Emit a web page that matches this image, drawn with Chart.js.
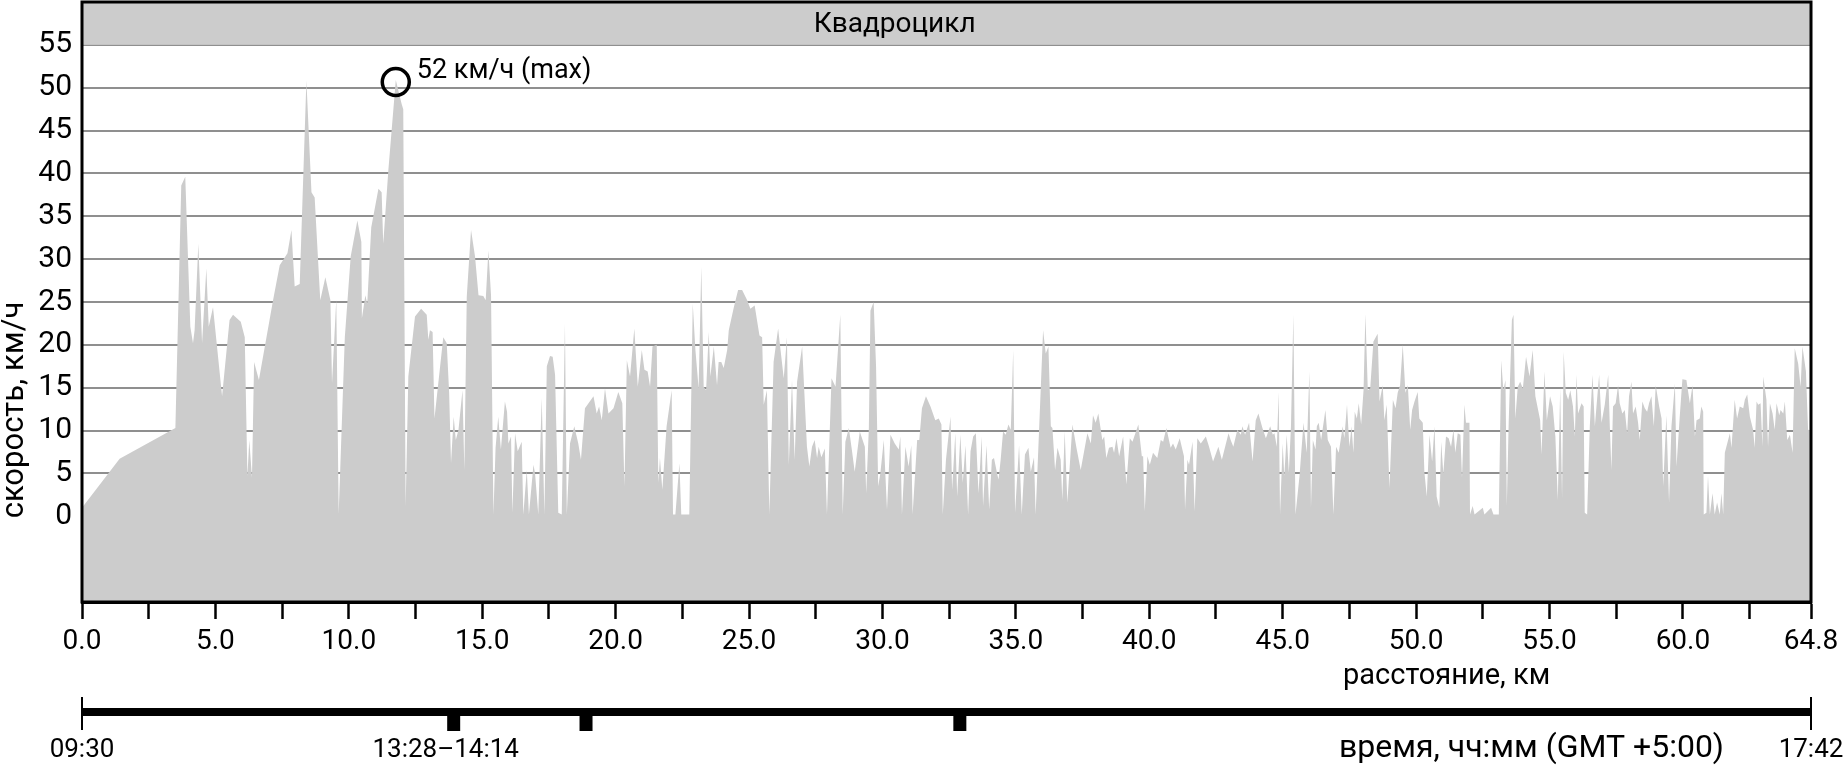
<!DOCTYPE html>
<html>
<head>
<meta charset="utf-8">
<script src="https://cdn.jsdelivr.net/npm/chart.js@4.4.1/dist/chart.umd.min.js"></script>
<style>
html,body{margin:0;padding:0;background:#fff;overflow:hidden}
canvas{display:block}
</style>
</head>
<body>
<canvas id="c" width="1843" height="766"></canvas>
<script>
// ---- data: [distance km, speed km/h] ----
const profileA = [[0,1.0],[1.41,6.7],[3.5,10.3],[3.72,38.6],[3.87,39.6],[4.06,22.1],[4.16,20.2],[4.22,21.7],[4.36,31.8],[4.5,20.2],[4.66,28.9],[4.75,22.1],[4.91,24.4],[5.25,14.0],[5.53,22.9],[5.66,23.5],[5.95,22.7],[6.1,20.9],[6.2,4.7],[6.27,8.9],[6.37,4.5],[6.45,18.0],[6.63,15.9],[7.16,25.2],[7.41,29.3],[7.7,30.7],[7.85,33.4],[7.97,26.8],[8.16,27.1],[8.41,50.8],[8.6,37.8],[8.72,37.2],[8.93,25.2],[9.12,27.9],[9.31,25.2],[9.37,15.5],[9.53,25.3],[9.62,0.3],[9.85,20.9],[10.07,30.3],[10.32,34.5],[10.47,32.0],[10.49,23.1],[10.62,25.8],[10.69,24.8],[10.84,33.7]];
const profileB = [[11.11,38.2],[11.23,37.8],[11.29,31.8],[11.48,40.3],[11.76,50.9],[11.98,48.1],[12.04,47.5],[12.13,1.2],[12.23,16.3],[12.48,23.3],[12.71,24.2],[12.92,23.5],[12.98,20.6],[13.04,21.7],[13.14,21.5],[13.21,11.4],[13.54,20.9],[13.67,20.2],[13.76,14.4],[13.83,6.2],[13.93,11.6],[14.01,8.9],[14.11,10.1],[14.26,14.7],[14.33,5.4],[14.42,25.6],[14.58,33.4],[14.73,30.3],[14.86,25.8],[15.04,25.7],[15.13,25.2],[15.23,31.0],[15.33,25.8],[15.42,0.2],[15.5,8.0],[15.6,11.6],[15.7,7.8],[15.85,13.4],[15.93,12.2],[15.98,8.5],[16.08,9.3],[16.13,0.4],[16.23,9.7],[16.33,7.6],[16.48,8.7],[16.54,0.2],[16.67,5.4],[16.75,0.2],[16.92,6.0],[16.98,5.0],[17.1,0.2],[17.23,13.8],[17.33,0.2],[17.42,17.5],[17.54,18.7],[17.64,18.6],[17.73,16.5],[17.85,0.4],[17.98,0.2],[18.1,22.5],[18.17,0.2],[18.29,8.5],[18.45,10.5],[18.6,8.5],[18.7,6.6],[18.85,12.6],[19.17,14.0],[19.29,12.0],[19.38,12.8],[19.48,11.2],[19.6,14.9],[19.73,12.0],[19.92,12.6],[20.1,14.5],[20.25,13.2],[20.33,3.5],[20.42,18.2],[20.54,16.3],[20.7,21.9],[20.83,15.1],[20.98,19.4],[21.08,17.1],[21.2,16.9],[21.29,15.1],[21.38,19.8],[21.54,20.0],[21.6,3.9],[21.66,6.8],[21.75,3.1],[21.91,10.5],[22.1,14.7]];
const profileC = [[22.15,0.2],[22.24,0.2],[22.39,6.2],[22.46,0.2],[22.76,0.2],[22.89,24.8],[22.99,19.4],[23.11,14.9],[23.21,29.1],[23.3,15.1],[23.39,14.7],[23.49,21.5],[23.55,16.3],[23.68,19.8],[23.8,15.3],[23.86,18.0],[23.96,18.0],[24.05,17.3],[24.18,19.4],[24.24,21.7],[24.43,24.4],[24.59,26.4],[24.74,26.4],[24.93,25.2],[25.05,24.2],[25.21,24.6],[25.39,21.1],[25.49,20.9],[25.55,13.0],[25.67,14.7],[25.76,0.2],[25.92,18.0],[26.09,21.9],[26.3,16.1],[26.42,20.9],[26.49,6.0],[26.61,15.9],[26.71,6.6],[26.8,15.7],[26.99,19.8],[27.17,8.1],[27.26,5.8],[27.36,8.1],[27.46,8.9],[27.55,6.8],[27.61,8.1],[27.71,6.9],[27.84,7.9],[27.92,0.2],[28.09,16.1],[28.24,15.1],[28.42,23.5],[28.51,0.2],[28.61,8.7],[28.74,10.3],[28.86,7.6],[28.96,5.2],[29.15,9.9],[29.34,8.1],[29.39,2.7],[29.49,10.3],[29.55,24.0],[29.67,25.0],[29.76,17.5],[29.84,3.5],[29.92,5.0],[30.05,8.9],[30.17,0.8],[30.3,9.5],[30.46,8.5],[30.61,7.8],[30.67,9.3],[30.73,0.2],[30.86,8.1],[30.98,5.8],[31.08,8.3],[31.13,0.2],[31.3,8.9],[31.38,8.9],[31.48,12.6],[31.63,14.0],[31.8,12.8],[31.98,11.2],[32.11,11.4],[32.21,10.7],[32.26,0.2],[32.38,6.6],[32.55,11.6],[32.61,3.1],[32.73,9.7],[32.8,2.3],[32.92,9.5],[33.01,3.9],[33.11,8.3],[33.21,0.2],[33.3,7.6]];
const profileD = [[33.4,9.3],[33.5,9.7],[33.6,2.7],[33.72,9.3],[33.77,1.2],[33.9,8.3],[34.0,0.8],[34.1,6.6],[34.18,6.8],[34.31,4.8],[34.35,4.3],[34.43,6.6],[34.52,9.9],[34.62,9.5],[34.72,10.7],[34.81,10.1],[34.9,19.4],[34.97,0.4],[35.12,8.3],[35.22,0.2],[35.34,7.2],[35.47,8.0],[35.56,5.2],[35.68,6.9],[35.74,0.2],[35.87,10.1],[36.02,21.7],[36.12,19.0],[36.22,19.8],[36.31,10.5],[36.37,10.3],[36.47,5.4],[36.56,8.0],[36.68,6.6],[36.74,1.9],[36.83,9.9],[36.93,1.6],[37.12,10.7],[37.27,8.0],[37.43,5.4],[37.68,9.7],[37.81,8.5],[37.89,11.8],[37.99,10.9],[38.09,12.0],[38.24,8.9],[38.31,9.3],[38.39,6.8],[38.49,8.0],[38.62,8.1],[38.68,7.4],[38.77,9.1],[38.87,7.0],[39.02,9.3],[39.14,3.7],[39.27,9.1],[39.37,8.7],[39.59,10.7],[39.72,7.0],[39.77,7.0],[39.83,0.6],[39.93,7.0],[40.02,6.0],[40.14,7.4],[40.3,6.8],[40.43,8.9],[40.52,8.7],[40.64,10.3],[40.8,8.0],[40.89,8.5],[40.99,7.8],[41.14,9.1],[41.3,7.0],[41.34,0.8],[41.43,6.6],[41.49,6.0],[41.62,8.7],[41.7,0.6],[41.8,9.1],[41.93,8.5],[42.12,9.3],[42.24,8.1],[42.39,6.4],[42.59,8.1],[42.72,6.6],[42.97,9.7],[43.05,8.9],[43.15,8.1],[43.3,10.1],[43.43,9.5],[43.49,10.5],[43.59,9.5],[43.74,10.9],[43.87,6.4],[43.99,11.2],[44.09,12.0],[44.24,10.3],[44.37,9.1],[44.46,9.9]];
const profileE = [[44.53,10.5],[44.63,9.5],[44.69,9.7],[44.78,8.1],[44.85,14.5],[44.9,0.2],[45.0,8.5],[45.06,4.7],[45.15,9.5],[45.23,5.1],[45.31,10.5],[45.4,23.5],[45.48,0.2],[45.63,4.7],[45.78,10.9],[45.9,7.4],[46.0,16.9],[46.06,1.0],[46.13,8.9],[46.23,7.8],[46.28,10.5],[46.35,10.9],[46.44,8.9],[46.6,12.4],[46.69,8.9],[46.81,8.1],[46.9,0.2],[47.0,8.1],[47.1,7.4],[47.25,10.5],[47.31,9.1],[47.41,13.0],[47.5,8.1],[47.58,10.5],[47.65,7.4],[47.7,12.2],[47.78,11.4],[47.85,13.2],[47.94,10.7],[48.03,14.7],[48.1,23.6],[48.19,14.7],[48.28,14.9],[48.4,20.4],[48.56,21.3],[48.63,13.4],[48.75,15.3],[48.81,11.2],[48.9,13.0],[49.0,3.3],[49.13,13.6],[49.23,12.6],[49.31,14.4],[49.4,15.3],[49.5,20.0],[49.6,14.4],[49.69,15.3],[49.78,10.1],[49.85,12.4],[49.94,13.4],[50.06,14.5],[50.12,11.4],[50.25,10.9],[50.31,5.2],[50.4,2.3],[50.5,9.5],[50.6,6.4],[50.69,10.5],[50.77,2.3],[50.87,1.0],[50.94,8.7],[51.02,5.0],[51.12,9.3],[51.22,9.1],[51.31,8.1],[51.4,10.1],[51.47,7.4],[51.56,9.7],[51.66,9.5],[51.72,4.5],[51.81,13.0],[51.87,10.9],[52.0,10.9],[52.02,0.2],[52.12,1.2],[52.19,0.2],[52.5,1.0],[52.56,0.2],[52.81,1.0],[52.9,0.2],[53.1,0.2],[53.19,18.2],[53.27,14.7],[53.35,15.9],[53.4,1.2],[53.47,11.0],[53.59,22.9],[53.65,23.5],[53.72,11.4],[53.81,15.1],[53.9,15.7],[54.0,14.9],[54.12,18.6],[54.25,16.3],[54.37,19.4],[54.47,14.0],[54.56,12.6],[54.65,11.2],[54.7,7.2],[54.81,16.9],[54.9,11.2],[55.02,14.0],[55.12,12.8],[55.22,9.3],[55.31,1.9],[55.4,14.9],[55.47,2.1],[55.53,19.2]];
const profileF = [[55.61,14.4],[55.7,13.6],[55.78,14.7],[55.88,12.8],[55.95,9.3],[56.01,16.5],[56.07,12.0],[56.2,13.2],[56.28,12.8],[56.32,0.4],[56.41,0.2],[56.51,10.5],[56.61,16.5],[56.7,10.5],[56.76,12.8],[56.86,16.5],[56.95,10.9],[57.07,13.0],[57.2,16.5],[57.26,10.5],[57.32,5.4],[57.38,12.8],[57.48,13.2],[57.57,15.3],[57.63,13.2],[57.73,12.0],[57.82,12.4],[57.91,9.7],[57.98,14.0],[58.07,15.7],[58.13,12.0],[58.23,12.8],[58.32,10.9],[58.38,8.9],[58.48,13.4],[58.57,12.6],[58.66,12.2],[58.73,13.2],[58.82,14.0],[58.91,10.5],[58.98,15.3],[59.11,12.8],[59.2,11.4],[59.26,3.5],[59.38,11.8],[59.48,1.6],[59.57,10.5],[59.7,15.5],[59.76,5.8],[59.88,11.6],[59.98,16.0],[60.13,15.9],[60.26,13.2],[60.36,15.3],[60.45,9.3],[60.51,11.2],[60.63,11.4],[60.69,12.8],[60.76,12.2],[60.78,0.2],[60.88,0.4],[60.94,4.7],[61.01,0.2],[61.11,2.7],[61.19,0.2],[61.28,1.6],[61.38,0.2],[61.44,2.7],[61.51,0.2],[61.57,7.4],[61.66,8.5],[61.76,9.7],[61.82,8.0],[61.94,13.6],[62.03,11.4],[62.13,12.8],[62.26,12.6],[62.32,13.6],[62.41,14.2],[62.51,11.6],[62.63,10.1],[62.69,8.0],[62.76,13.4],[62.82,13.0],[62.91,13.2],[62.98,8.1],[63.01,16.3],[63.13,13.6],[63.19,8.1],[63.26,13.2],[63.36,12.0],[63.44,10.1],[63.51,13.2],[63.61,11.8],[63.66,12.4],[63.76,12.0],[63.82,13.4],[63.91,8.9],[64.01,9.5],[64.11,7.4],[64.19,19.6],[64.32,17.8],[64.41,15.1],[64.48,19.8],[64.61,16.9],[64.69,10.1],[64.8,10.0]];

// ---- axes / labels ----
const xMin = 0, xMax = 64.8;
const yMin = -10, yMax = 60;
const xTickValues = [0,2.5,5,7.5,10,12.5,15,17.5,20,22.5,25,27.5,30,32.5,35,37.5,40,42.5,45,47.5,50,52.5,55,57.5,60,62.5,64.8];
const xLabelValues = [0,5,10,15,20,25,30,35,40,45,50,55,60,64.8];
const yTickValues = [-10,-5,0,5,10,15,20,25,30,35,40,45,50,55,60];
const yLabelValues = [0,5,10,15,20,25,30,35,40,45,50,55];
const bandFrom = 55;
const chartTitle = 'Квадроцикл';
const yTitle = 'скорость, км/ч';
const xTitle = 'расстояние, км';
const timeTitle = 'время, чч:мм (GMT +5:00)';
const maxLabel = '52 км/ч (max)';
const timeStart = '09:30';
const timeEnd = '17:42';
const stopKm = [13.93, 18.89, 32.90];
const stopLabels = ['13:28–14:14', '', ''];

const FONT = 'Roboto, "Noto Sans", sans-serif';
const points = [].concat(profileA, profileB, profileC, profileD, profileE, profileF).map(p => ({x: p[0], y: p[1]}));

const decor = {
  id: 'decor',
  beforeDatasetsDraw(chart) {
    const {ctx, chartArea: a, scales: {y}} = chart;
    const yb = y.getPixelForValue(bandFrom);
    ctx.save();
    ctx.fillStyle = '#cccccc';
    ctx.fillRect(a.left, a.top, a.right - a.left, yb - a.top);
    ctx.fillStyle = '#000';
    ctx.font = '28px ' + FONT;
    ctx.textAlign = 'center';
    ctx.textBaseline = 'middle';
    ctx.fillText(chartTitle, a.left + (a.right - a.left) * 0.47, (a.top + yb) / 2 + 2);
    ctx.restore();
  },
  afterDraw(chart) {
    const {ctx, chartArea: a, scales: {x, y}} = chart;
    ctx.save();
    // frame
    ctx.strokeStyle = '#000';
    ctx.lineWidth = 3;
    ctx.strokeRect(a.left, a.top, a.right - a.left, a.bottom - a.top);

    // max marker
    let mi = 0;
    points.forEach((p, i) => { if (p.y > points[mi].y) mi = i; });
    const mx = x.getPixelForValue(points[mi].x), my = y.getPixelForValue(points[mi].y) + 2;
    ctx.beginPath();
    ctx.lineWidth = 3.5;
    ctx.arc(mx, my, 13.5, 0, Math.PI * 2);
    ctx.stroke();
    ctx.fillStyle = '#000';
    ctx.font = '27px ' + FONT;
    ctx.textAlign = 'left';
    ctx.textBaseline = 'middle';
    ctx.fillText(maxLabel, mx + 21, my - 11);

    // y title
    ctx.save();
    ctx.translate(15, 410);
    ctx.rotate(-Math.PI / 2);
    ctx.font = '31px ' + FONT;
    ctx.textAlign = 'center';
    ctx.textBaseline = 'middle';
    ctx.fillText(yTitle, 0, 0);
    ctx.restore();

    // x title
    ctx.font = '29px ' + FONT;
    ctx.textAlign = 'left';
    ctx.textBaseline = 'alphabetic';
    ctx.fillText(xTitle, 1343, 684);

    // time axis
    const L = a.left, R = a.right;
    ctx.fillRect(L, 708, R - L, 8);
    ctx.fillRect(L - 1, 697, 2, 33);
    ctx.fillRect(R - 1, 697, 2, 33);
    ctx.font = '26px ' + FONT;
    ctx.textAlign = 'center';
    ctx.textBaseline = 'alphabetic';
    stopKm.forEach((km, i) => {
      const px = x.getPixelForValue(km);
      ctx.fillRect(px - 6.5, 708, 13, 23);
      if (stopLabels[i]) ctx.fillText(stopLabels[i], px - 8, 757);
    });
    ctx.fillText(timeStart, L, 757);
    ctx.fillText(timeEnd, R, 757);
    ctx.font = '32px ' + FONT;
    ctx.textAlign = 'right';
    ctx.fillText(timeTitle, 1724, 757);
    ctx.restore();
  }
};

function isIn(list, v) { return list.some(t => Math.abs(t - v) < 1e-6); }

function build() {
  Chart.defaults.font.family = FONT;
  new Chart(document.getElementById('c'), {
    type: 'line',
    data: {
      datasets: [{
        data: points,
        fill: 'start',
        backgroundColor: '#cccccc',
        borderColor: 'rgba(0,0,0,0)',
        borderWidth: 0,
        pointRadius: 0,
        pointHoverRadius: 0,
        tension: 0
      }]
    },
    options: {
      responsive: false,
      animation: false,
      events: [],
      layout: { padding: { top: 2, right: 32, bottom: 0, left: 0 } },
      plugins: { legend: { display: false }, tooltip: { enabled: false }, title: { display: false } },
      scales: {
        x: {
          type: 'linear', min: xMin, max: xMax,
          afterBuildTicks: s => { s.ticks = xTickValues.map(v => ({ value: v })); },
          afterFit: s => { s.height = 164; s.paddingLeft = 0; s.paddingRight = 0; },
          grid: { drawOnChartArea: false, drawTicks: true, tickLength: 17, tickWidth: 2.5, tickColor: '#000' },
          border: { display: true, color: '#000', width: 3 },
          ticks: {
            autoSkip: false, maxRotation: 0, minRotation: 0, padding: 6, color: '#000',
            font: { family: FONT, size: 28 },
            callback: v => isIn(xLabelValues, v) ? v.toFixed(1) : ''
          }
        },
        y: {
          min: yMin, max: yMax, z: 1,
          afterBuildTicks: s => { s.ticks = yTickValues.map(v => ({ value: v })); },
          afterFit: s => { s.width = 82; s.paddingTop = 0; s.paddingBottom = 0; },
          grid: {
            drawTicks: false, lineWidth: 2,
            color: c => (c.tick && (c.tick.value === yMax || c.tick.value === yMin)) ? 'rgba(0,0,0,0)' : '#8f8f8f'
          },
          border: { display: false },
          ticks: {
            padding: 10, color: '#000',
            font: { family: FONT, size: 30 },
            callback: v => isIn(yLabelValues, v) ? String(v) : ''
          }
        }
      }
    },
    plugins: [decor]
  });
}

if (document.fonts && document.fonts.load) {
  Promise.all([document.fonts.load('28px Roboto')]).then(build, build);
} else { build(); }
</script>
</body>
</html>
